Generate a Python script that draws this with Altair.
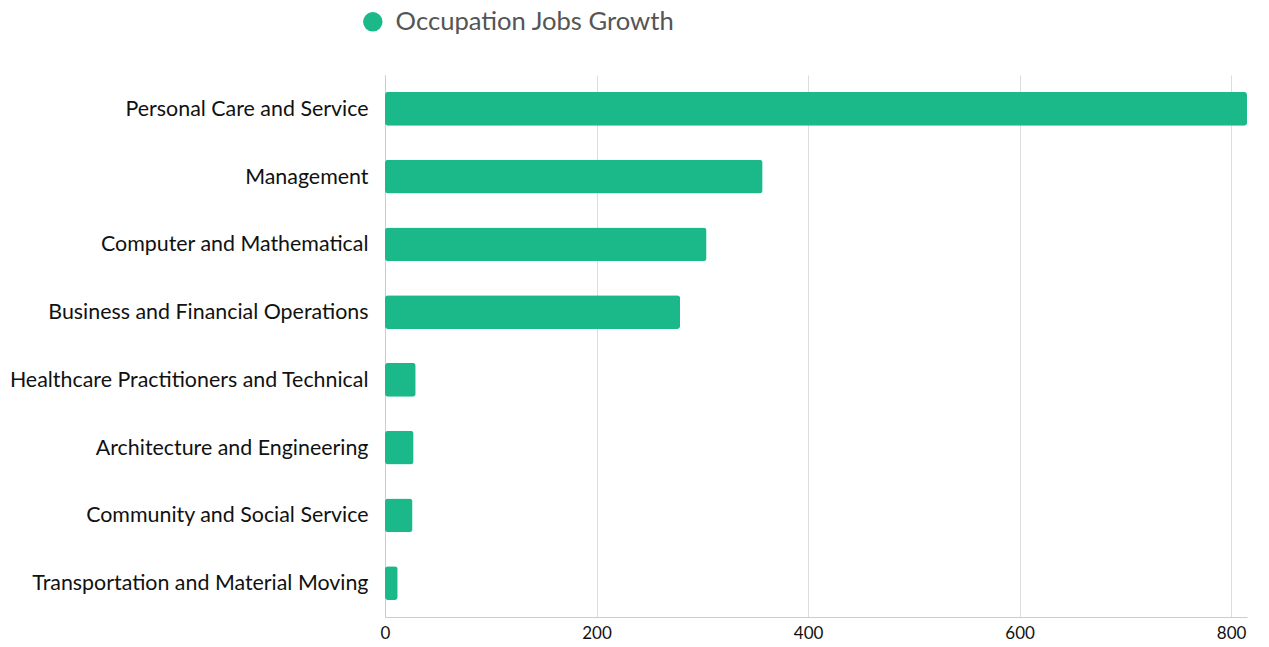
import altair as alt
import pandas as pd

categories = [
    "Personal Care and Service",
    "Management",
    "Computer and Mathematical",
    "Business and Financial Operations",
    "Healthcare Practitioners and Technical",
    "Architecture and Engineering",
    "Community and Social Service",
    "Transportation and Material Moving",
]
values = [815, 357, 304, 279, 29, 27, 26, 12]
series_name = "Occupation Jobs Growth"
x_ticks = [0, 200, 400, 600, 800]

df = pd.DataFrame({"category": categories, "value": values, "series": [series_name] * len(values)})

FONT = "Lato"
GREEN = "#1bb98a"

chart = (
    alt.Chart(df)
    .mark_bar(cornerRadius=3)
    .encode(
        x=alt.X(
            "value:Q",
            scale=alt.Scale(domain=[0, 815], nice=False),
            axis=alt.Axis(
                title=None,
                values=x_ticks,
                ticks=False,
                labelPadding=8,
                labelFontSize=17,
                labelColor="#111111",
                labelFont=FONT,
                gridColor="#dddddd",
                domainColor="#cccccc",
                labelFlush=False,
            ),
        ),
        y=alt.Y(
            "category:N",
            sort=categories,
            scale=alt.Scale(paddingInner=0.5, paddingOuter=0.25),
            axis=alt.Axis(
                title=None,
                ticks=False,
                grid=False,
                labelPadding=17,
                labelOffset=1,
                labelFontSize=21.4,
                labelColor="#111111",
                labelFont=FONT,
                domainColor="#cccccc",
                labelLimit=400,
            ),
        ),
        color=alt.Color(
            "series:N",
            scale=alt.Scale(domain=[series_name], range=[GREEN]),
            legend=alt.Legend(
                title=None,
                orient="none",
                legendX=-25,
                legendY=-66,
                symbolType="circle",
                symbolSize=380,
                labelFontSize=25.6,
                labelFont=FONT,
                labelColor="#555555",
                labelOffset=10,
                labelLimit=600,
            ),
        ),
    )
    .properties(
        width=862,
        height=542,
        autosize=alt.AutoSizeParams(type="none"),
        padding={"left": 377, "top": 67, "right": 10, "bottom": 30},
    )
    .configure_view(stroke=None)
)

chart.save("out.html", embed_options={"renderer": "svg", "actions": False})
